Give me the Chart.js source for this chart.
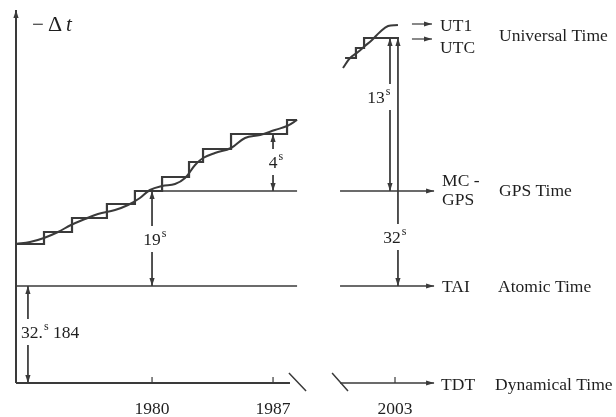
<!DOCTYPE html>
<html>
<head>
<meta charset="utf-8">
<script src="https://cdn.jsdelivr.net/npm/chart.js@4.4.0/dist/chart.umd.min.js"></script>
<style>
  html, body { margin: 0; padding: 0; background: #fff; }
  canvas { display: block; }
</style>
</head>
<body>
<canvas id="timeChart" width="616" height="417"></canvas>
<script>
// schematic heights of the time scales (diagram units, TDT = 0)
const scaleNames = ['TDT', 'TAI', 'GPS', 'UTC', 'UT1'];
const scaleLevels = [0, 97, 192, 344, 359];
const scaleTitles = ['Dynamical Time', 'Atomic Time', 'GPS Time', 'Universal Time'];

// left panel, 1972 - 1988
const stepYears = [1972.13, 1973.75, 1975.37, 1977.39, 1979.01, 1980.58, 1982.14, 1982.95, 1984.57, 1987.81, 1988.39];
const stepLevels = [139, 151, 165, 179, 192, 206, 221, 234, 249, 263, 263];
const ut1Years = [1972.13, 1972.94, 1973.75, 1974.56, 1975.31, 1976.12, 1976.87, 1977.86, 1978.61, 1979.3, 1979.88,
  1980.58, 1981.33, 1981.91, 1982.49, 1982.95, 1983.64, 1984.57, 1985.38, 1986.25, 1987.11, 1987.81, 1988.39];
const ut1Levels = [139, 141, 145, 151, 158, 164, 169, 173, 178, 185, 193,
  197, 199, 205, 218, 225, 230, 235, 245, 248, 253, 257, 263];

// right panel, around 2003
const stepYears03 = [2000.11, 2000.74, 2001.21, 2003.23];
const stepLevels03 = [325, 335, 345, 345];
const ut1Years03 = [1999.99, 2000.4, 2000.86, 2001.26, 2001.67, 2002.13, 2002.6, 2003.17];
const ut1Levels03 = [315, 325, 331, 337, 343, 351, 357, 358];

// time axis
const tickYears = [1980, 1987, 2003];
const tickLabels = ['1980', '1987', '2003'];

// offsets between scales: year, top end, bottom end, label
const offsetYears = [1980, 1987, 2002.71, 2003.17, 1972.82];
const offsetTop = [192, 249, 345, 345, 97];
const offsetBottom = [97, 192, 192, 97, 0];
const offsetLabelAt = [144, 221, 286, 146, 51];
const offsetText = ['19', '4', '13', '32', '32.'];

const X_MIN = 1972.13;
const PX_PER_YEAR = 17.2857;
const X_MAX = X_MIN + 600 / PX_PER_YEAR;
const BREAK_SHIFT = 8.944;   // years cut out by the axis break
const plotX = yr => yr > 1995 ? yr - BREAK_SHIFT : yr;

const INK = '#3a3a3a';
const TEXT = '#1f1f1f';
const SERIF = '"Liberation Serif", "Times New Roman", serif';
const FS = 17.5;

const level = name => scaleLevels[scaleNames.indexOf(name)];
const pts = (xs, ys) => xs.map((v, i) => ({ x: plotX(v), y: ys[i] }));
const seg = (x0, y0, x1, y1) => [{ x: plotX(x0), y: y0 }, { x: plotX(x1), y: y1 }];

const line = (data, extra) => Object.assign({
  data, borderColor: INK, borderWidth: 1.5, pointRadius: 0, tension: 0, fill: false, clip: false
}, extra);

const datasets = [];
// axes
datasets.push(line([{ x: X_MIN, y: 0 }, { x: X_MIN, y: 373 }], { borderWidth: 2, arrow: 'end' }));
datasets.push(line(seg(X_MIN, 0, 1987.98, 0), { borderWidth: 2 }));
datasets.push(line([{ x: 1987.92, y: 10 }, { x: 1988.91, y: -8 }, { x: 1988.91, y: null },
  { x: plotX(1999.36), y: 10 }, { x: plotX(2000.28), y: -8 }], { borderWidth: 1.5 }));
datasets.push(line(seg(1999.82, level('TDT'), 2005.26, level('TDT')), { arrow: 'end' }));
const tickPts = [];
tickYears.forEach(yr => {
  tickPts.push({ x: plotX(yr), y: 0 }, { x: plotX(yr), y: 6 }, { x: plotX(yr), y: null });
});
datasets.push(line(tickPts, { borderWidth: 1.2 }));

// TAI and GPS reference lines
datasets.push(line(seg(X_MIN, level('TAI'), 1988.39, level('TAI'))));
datasets.push(line(seg(1999.82, level('TAI'), 2005.26, level('TAI')), { arrow: 'end' }));
datasets.push(line(seg(1979.77, level('GPS'), 1988.39, level('GPS'))));
datasets.push(line(seg(1999.82, level('GPS'), 2005.26, level('GPS')), { arrow: 'end' }));
datasets.push(line(seg(2003.98, level('UT1'), 2005.14, level('UT1')), { borderWidth: 1.2, arrow: 'end' }));
datasets.push(line(seg(2003.98, level('UTC'), 2005.14, level('UTC')), { borderWidth: 1.2, arrow: 'end' }));

// UTC steps and UT1
datasets.push(line(pts(stepYears, stepLevels), { borderWidth: 2.2, stepped: 'before' }));
datasets.push(line(pts(ut1Years, ut1Levels), { borderWidth: 2, tension: 0.4 }));
datasets.push(line(pts(stepYears03, stepLevels03), { borderWidth: 2.2, stepped: 'before' }));
datasets.push(line(pts(ut1Years03, ut1Levels03), { borderWidth: 2, tension: 0.4 }));

// offset arrows, broken around the label
const GAP = 13;
offsetYears.forEach((yr, i) => {
  const xv = plotX(yr);
  datasets.push(line([
    { x: xv, y: offsetTop[i] }, { x: xv, y: offsetLabelAt[i] + GAP }, { x: xv, y: null },
    { x: xv, y: offsetLabelAt[i] - GAP }, { x: xv, y: offsetBottom[i] }
  ], { borderWidth: 1, arrow: 'both' }));
});

function head(ctx, tip, from, len, half) {
  const a = Math.atan2(tip.y - from.y, tip.x - from.x);
  ctx.beginPath();
  ctx.moveTo(tip.x, tip.y);
  ctx.lineTo(tip.x - len * Math.cos(a) + half * Math.sin(a), tip.y - len * Math.sin(a) - half * Math.cos(a));
  ctx.lineTo(tip.x - len * Math.cos(a) - half * Math.sin(a), tip.y - len * Math.sin(a) + half * Math.cos(a));
  ctx.closePath();
  ctx.fill();
}

const arrowPlugin = {
  id: 'arrows',
  afterDatasetsDraw(chart) {
    const { ctx } = chart;
    ctx.save();
    ctx.fillStyle = INK;
    chart.data.datasets.forEach((ds, i) => {
      if (!ds.arrow) return;
      const p = chart.getDatasetMeta(i).data.filter(el => !el.skip);
      const n = p.length;
      head(ctx, p[n - 1], p[n - 2], 8, 2.6);
      if (ds.arrow === 'both') head(ctx, p[0], p[1], 8, 2.6);
    });
    ctx.restore();
  }
};

function sup(ctx, txt, cx, by, align) {
  ctx.font = `${FS}px ${SERIF}`;
  const w = ctx.measureText(txt).width;
  const x0 = align === 'left' ? cx : cx - w / 2;
  ctx.textAlign = 'left';
  ctx.fillText(txt, x0, by);
  ctx.font = `12px ${SERIF}`;
  ctx.fillText('s', x0 + w + 1, by - 8);
  return x0 + w + 1 + ctx.measureText('s').width;
}

const labelShift = [0, 0, -14, -6, 4];

const labelPlugin = {
  id: 'labels',
  afterDatasetsDraw(chart) {
    const { ctx, scales: { x, y } } = chart;
    ctx.save();
    ctx.fillStyle = TEXT;
    ctx.textBaseline = 'alphabetic';

    // -Δt
    const ax = x.getPixelForValue(X_MIN);
    ctx.font = `21px ${SERIF}`;
    ctx.textAlign = 'left';
    ctx.fillText('\u2212', ax + 16, 31);
    ctx.font = `22px ${SERIF}`;
    ctx.fillText('\u0394', ax + 32, 31);
    ctx.font = `italic 21px ${SERIF}`;
    ctx.fillText('t', ax + 50, 31);

    // tick labels
    ctx.font = `${FS}px ${SERIF}`;
    ctx.textAlign = 'center';
    tickYears.forEach((yr, i) => {
      ctx.fillText(tickLabels[i], x.getPixelForValue(plotX(yr)), y.getPixelForValue(0) + 31);
    });

    // scale names at the arrow tips
    const nx = x.getPixelForValue(plotX(2005.26)) + 8;
    const tx = x.getPixelForValue(plotX(2005.26)) + 63;
    ctx.textAlign = 'left';
    ctx.font = `${FS}px ${SERIF}`;
    ctx.fillText('UT1', nx - 2, y.getPixelForValue(level('UT1')) + 6.5);
    ctx.fillText('UTC', nx - 2, y.getPixelForValue(level('UTC')) + 13.5);
    ctx.fillText('MC -', nx, y.getPixelForValue(level('GPS')) - 5);
    ctx.fillText('GPS', nx, y.getPixelForValue(level('GPS')) + 14);
    ctx.fillText('TAI', nx, y.getPixelForValue(level('TAI')) + 6);
    ctx.fillText('TDT', nx - 1, y.getPixelForValue(level('TDT')) + 7);
    ctx.fillText(scaleTitles[3], tx + 2, y.getPixelForValue(level('UTC')) + 1.5);
    ctx.fillText(scaleTitles[2], tx + 2, y.getPixelForValue(level('GPS')) + 5);
    ctx.fillText(scaleTitles[1], tx + 1, y.getPixelForValue(level('TAI')) + 6);
    ctx.fillText(scaleTitles[0], tx - 2, y.getPixelForValue(level('TDT')) + 7);

    // offset labels
    offsetYears.forEach((yr, i) => {
      const cx = x.getPixelForValue(plotX(yr)) + labelShift[i];
      const by = y.getPixelForValue(offsetLabelAt[i]) + 6;
      if (i === 4) {
        const end = sup(ctx, offsetText[i], ax + 5, by, 'left');
        ctx.font = `${FS}px ${SERIF}`;
        ctx.fillText(' 184', end, by);
      } else {
        sup(ctx, offsetText[i], cx, by, 'center');
      }
    });
    ctx.restore();
  }
};

new Chart(document.getElementById('timeChart').getContext('2d'), {
  type: 'line',
  data: { datasets },
  options: {
    responsive: false,
    animation: false,
    parsing: true,
    spanGaps: false,
    layout: { padding: { left: 16, top: 8, right: 0, bottom: 34 } },
    scales: {
      x: { type: 'linear', display: false, min: X_MIN, max: X_MAX },
      y: { type: 'linear', display: false, min: 0, max: 375 }
    },
    plugins: { legend: { display: false }, tooltip: { enabled: false } }
  },
  plugins: [arrowPlugin, labelPlugin]
});
</script>
</body>
</html>
